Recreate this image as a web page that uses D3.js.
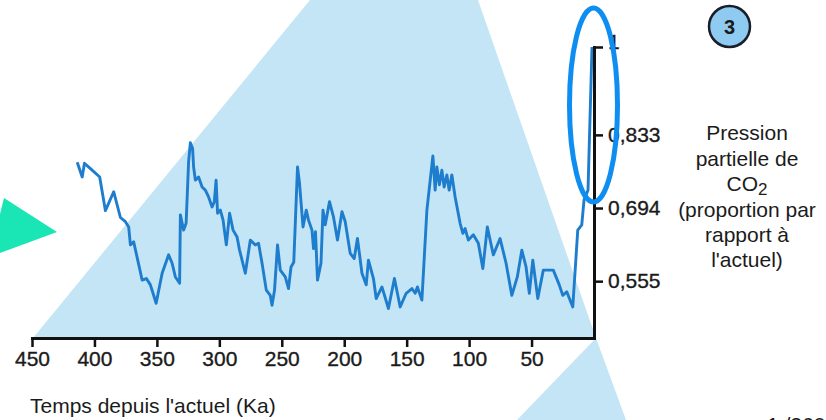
<!DOCTYPE html>
<html><head><meta charset="utf-8">
<script src="https://cdn.jsdelivr.net/npm/d3@7"></script>
<style>
body{margin:0;background:#fff}
svg{display:block}
text{font-family:"Liberation Sans",Arial,Helvetica,sans-serif;fill:#1b1b1b}
</style>
</head><body><svg id="c" width="826" height="420"></svg>
<script>
// Time before present (Ka)
const times=[413.8,409.8,408,403.2,395.8,391.2,384.6,379.2,375.2,372.6,
371.2,368.6,361.8,358.4,355.2,350.6,345.8,340.6,337.8,335.2,
331.8,331.2,328.6,326.6,324.6,323.2,321.4,320.6,319.2,316.6,
313.8,311.2,308.6,305.8,304,302.6,301.4,299.2,297,294.4,
291.8,289,285.8,283.8,279.2,275.2,271.2,268.6,265.8,262.4,
259.2,257.8,255.8,253.4,251.2,247.2,244.6,242.6,240.4,237.4,
235.8,233,230.4,228.6,225.8,224.6,223,221.4,218.6,217,
215.2,211.8,208.6,205.4,201.8,199.2,195.2,192,189.4,185.8,
182.4,180.6,176.6,174.4,169.8,164.6,159.8,155.2,150.4,145.8,
143.2,141.4,137.8,133.8,129,127.2,125.8,123.8,121.8,120,
117.8,116,113.8,111.2,107.2,105,103.2,100.6,96.6,92.6,
89,85.4,80.6,75.2,70.4,65.8,61.4,57.8,54.4,51.8,
49,45,40.6,32.6,27.8,25,21.8,17,13,9.8,
8,4.8,1.6];
// CO2 partial pressure relative to present
const values=[0.781,0.753,0.779,0.769,0.753,0.689,0.725,0.676,0.668,0.658,
0.624,0.630,0.557,0.560,0.548,0.513,0.570,0.605,0.589,0.563,
0.551,0.681,0.652,0.665,0.782,0.818,0.807,0.772,0.747,0.753,
0.734,0.728,0.715,0.696,0.706,0.747,0.684,0.690,0.671,0.624,
0.684,0.652,0.639,0.614,0.570,0.633,0.624,0.627,0.589,0.538,
0.528,0.509,0.538,0.624,0.576,0.563,0.541,0.582,0.591,0.772,
0.741,0.658,0.690,0.671,0.652,0.617,0.649,0.557,0.589,0.690,
0.662,0.706,0.677,0.633,0.687,0.668,0.608,0.598,0.636,0.570,
0.548,0.595,0.560,0.522,0.544,0.503,0.560,0.506,0.532,0.541,
0.532,0.544,0.519,0.690,0.793,0.728,0.772,0.738,0.766,0.734,
0.757,0.728,0.757,0.715,0.665,0.646,0.655,0.633,0.643,0.627,
0.579,0.658,0.605,0.636,0.589,0.528,0.563,0.614,0.582,0.532,
0.595,0.522,0.576,0.576,0.548,0.528,0.535,0.506,0.652,0.662,
0.709,0.728,1.0];
const xTicks=[450,400,350,300,250,200,150,100,50];
const yTicks=[1,0.833,0.694,0.555];
const yTickLabels=["1","0,833","0,694","0,555"];
const xTitle="Temps depuis l'actuel (Ka)";
const yTitleLines=["Pression","partielle de","CO2","(proportion par","rapport à","l'actuel)"];
const badge="3";
const pageNote="1 /260";

const svg=d3.select("#c");
const x=d3.scaleLinear().domain([450,0]).range([32,594]);
const y=d3.scaleLinear().domain([0.447,1]).range([338,47]);

// decorative background shapes
const bg="#c4e5f5";
svg.append("polygon").attr("points","310,0 478,0 596,338 33,338").attr("fill",bg);
svg.append("polygon").attr("points","596,338 626,420 517,420").attr("fill",bg);
svg.append("polygon").attr("points","4,198 57,232 0,253 0,214").attr("fill","#19e6b4");

// data line
const data=d3.zip(times,values);
svg.append("path").datum(data)
  .attr("fill","none").attr("stroke","#1e7dcd").attr("stroke-width",2.9)
  .attr("stroke-linejoin","round")
  .attr("d",d3.line().x(d=>x(d[0])).y(d=>y(d[1])));

// axes
const gx=svg.append("g").attr("transform","translate(0,338)")
  .call(d3.axisBottom(x).tickValues(xTicks).tickSize(9).tickSizeOuter(0).tickPadding(4));
const gy=svg.append("g").attr("transform","translate(594,0)")
  .call(d3.axisRight(y).tickValues(yTicks).tickFormat((d,i)=>yTickLabels[i]).tickSize(9).tickSizeOuter(0).tickPadding(5));
[gx,gy].forEach(g=>{
  g.attr("font-size",null).attr("font-family",null);
  g.select(".domain").attr("stroke","#111").attr("stroke-width",3).attr("stroke-linecap","square");
  g.selectAll(".tick line").attr("stroke","#111").attr("stroke-width",2.5);
  g.selectAll(".tick text").attr("fill","#1b1b1b").attr("stroke","#1b1b1b").attr("stroke-width",0.35).style("font-size","21px");
});
gy.selectAll(".tick text").filter(d=>d===1).attr("dy","0.05em");

// titles
svg.append("text").attr("x",30).attr("y",413).style("font-size","21px").text(xTitle);
const baselines=[140,165.5,191,216.5,242,267];
yTitleLines.forEach((t,i)=>{
  const tx=svg.append("text").attr("x",747).attr("y",baselines[i]).attr("text-anchor","middle").style("font-size","21px");
  if(t==="CO2"){
    tx.append("tspan").text("CO");
    tx.append("tspan").attr("dy",4).style("font-size","17px").text("2");
  } else tx.text(t);
});

// annotation ellipse
svg.append("ellipse").attr("cx",593.5).attr("cy",105).attr("rx",24).attr("ry",97)
  .attr("fill","none").attr("stroke","#0d8ef0").attr("stroke-width",5);

// badge
svg.append("circle").attr("cx",729.5).attr("cy",26.5).attr("r",20.5)
  .attr("fill","#8fcbf0").attr("stroke","#1a1d2a").attr("stroke-width",2.5);
svg.append("text").attr("x",729.5).attr("y",33.5).attr("text-anchor","middle")
  .style("font-size","20px").style("font-weight","bold").attr("fill","#1a1d2a").text(badge);

svg.append("text").attr("x",767).attr("y",432).style("font-size","21px").text(pageNote);
</script>
</body></html>
